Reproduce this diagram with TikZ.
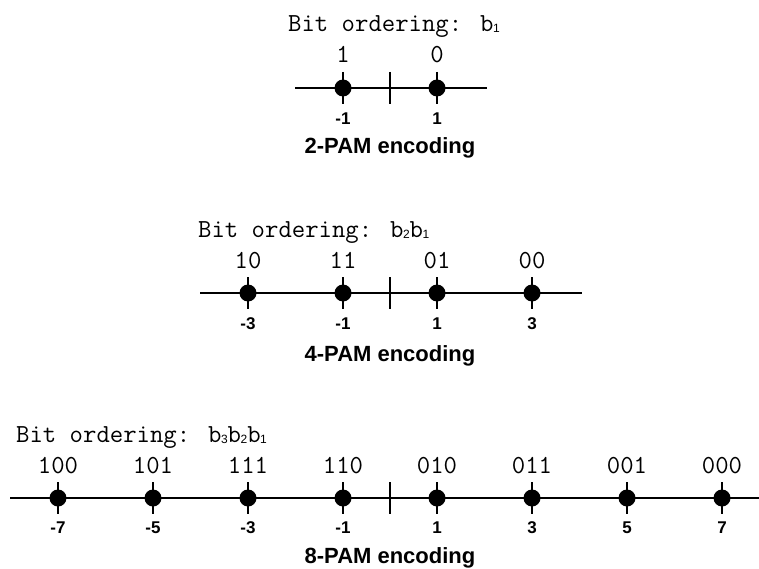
\documentclass[tikz,border=0pt]{standalone}
\usepackage{fontspec}
\setmainfont{Liberation Sans}
\newcommand\bsub[1]{b\kern-0.5pt\raisebox{-1pt}{\fontsize{12}{12}\selectfont\rmfamily #1}}
\begin{document}
\begin{tikzpicture}[x=1pt,y=-1pt,
  axis/.style={line width=1.4pt},
  dot/.style={circle,fill=black,minimum size=17pt,inner sep=0pt},
  tk/.style={line width=1.4pt},
  bits/.style={font=\ttfamily\fontsize{26}{26}\selectfont, inner sep=0pt, anchor=base},
  val/.style={font=\bfseries\fontsize{17}{17}\selectfont, inner sep=0pt, anchor=base},
  enc/.style={font=\bfseries\fontsize{22}{22}\selectfont, inner sep=0pt, anchor=base},
  ttl/.style={font=\ttfamily\fontsize{26}{26}\selectfont, inner sep=0pt, anchor=base west}]
\useasboundingbox[fill=white] (0,0) rectangle (759,569);

% ---------- 2-PAM ----------
\node[ttl] (t2) at (288,32) {Bit ordering: \bsub{1}};
\coordinate (a2L) at (295,88); \coordinate (a2R) at (487,88);
\draw[axis] (a2L) -- (a2R);
\coordinate (c2) at (390,88);
\draw[tk] ([yshift=16pt]c2) -- ([yshift=-16pt]c2);
\foreach \xx/\lab/\v [count=\i] in {343/1/-1, 437/0/1} {
  \node[dot] (p2-\i) at (\xx,88) {};
  \draw[tk] ([yshift=16pt]p2-\i.center) -- ([yshift=-16pt]p2-\i.center);
  \node[bits] (l2-\i) at (\xx,63) {\lab};
  \node[val] (v2-\i) at (\xx,125) {\v};
}
\node[enc] (e2) at (390,154) {2-PAM encoding};

% ---------- 4-PAM ----------
\node[ttl] (t4) at (198,237) {Bit ordering: \bsub{2}\bsub{1}};
\coordinate (a4L) at (200,293); \coordinate (a4R) at (582,293);
\draw[axis] (a4L) -- (a4R);
\coordinate (c4) at (390,293);
\draw[tk] ([yshift=16pt]c4) -- ([yshift=-16pt]c4);
\foreach \xx/\lab/\v [count=\i] in {248/10/-3, 343/11/-1, 437/01/1, 532/00/3} {
  \node[dot] (p4-\i) at (\xx,293) {};
  \draw[tk] ([yshift=16pt]p4-\i.center) -- ([yshift=-16pt]p4-\i.center);
  \node[bits] (l4-\i) at (\xx,268) {\lab};
  \node[val] (v4-\i) at (\xx,329) {\v};
}
\node[enc] (e4) at (390,361) {4-PAM encoding};

% ---------- 8-PAM ----------
\node[ttl] (t8) at (16,442) {Bit ordering: \bsub{3}\bsub{2}\bsub{1}};
\coordinate (a8L) at (10,498); \coordinate (a8R) at (759,498);
\draw[axis] (a8L) -- (a8R);
\coordinate (c8) at (390,498);
\draw[tk] ([yshift=16pt]c8) -- ([yshift=-16pt]c8);
\foreach \xx/\lab/\v [count=\i] in {58/100/-7, 153/101/-5, 248/111/-3, 343/110/-1, 437/010/1, 532/011/3, 627/001/5, 722/000/7} {
  \node[dot] (p8-\i) at (\xx,498) {};
  \draw[tk] ([yshift=16pt]p8-\i.center) -- ([yshift=-16pt]p8-\i.center);
  \node[bits] (l8-\i) at (\xx,473) {\lab};
  \node[val] (v8-\i) at (\xx,533) {\v};
}
\node[enc] (e8) at (390,563) {8-PAM encoding};
\end{tikzpicture}
\end{document}
